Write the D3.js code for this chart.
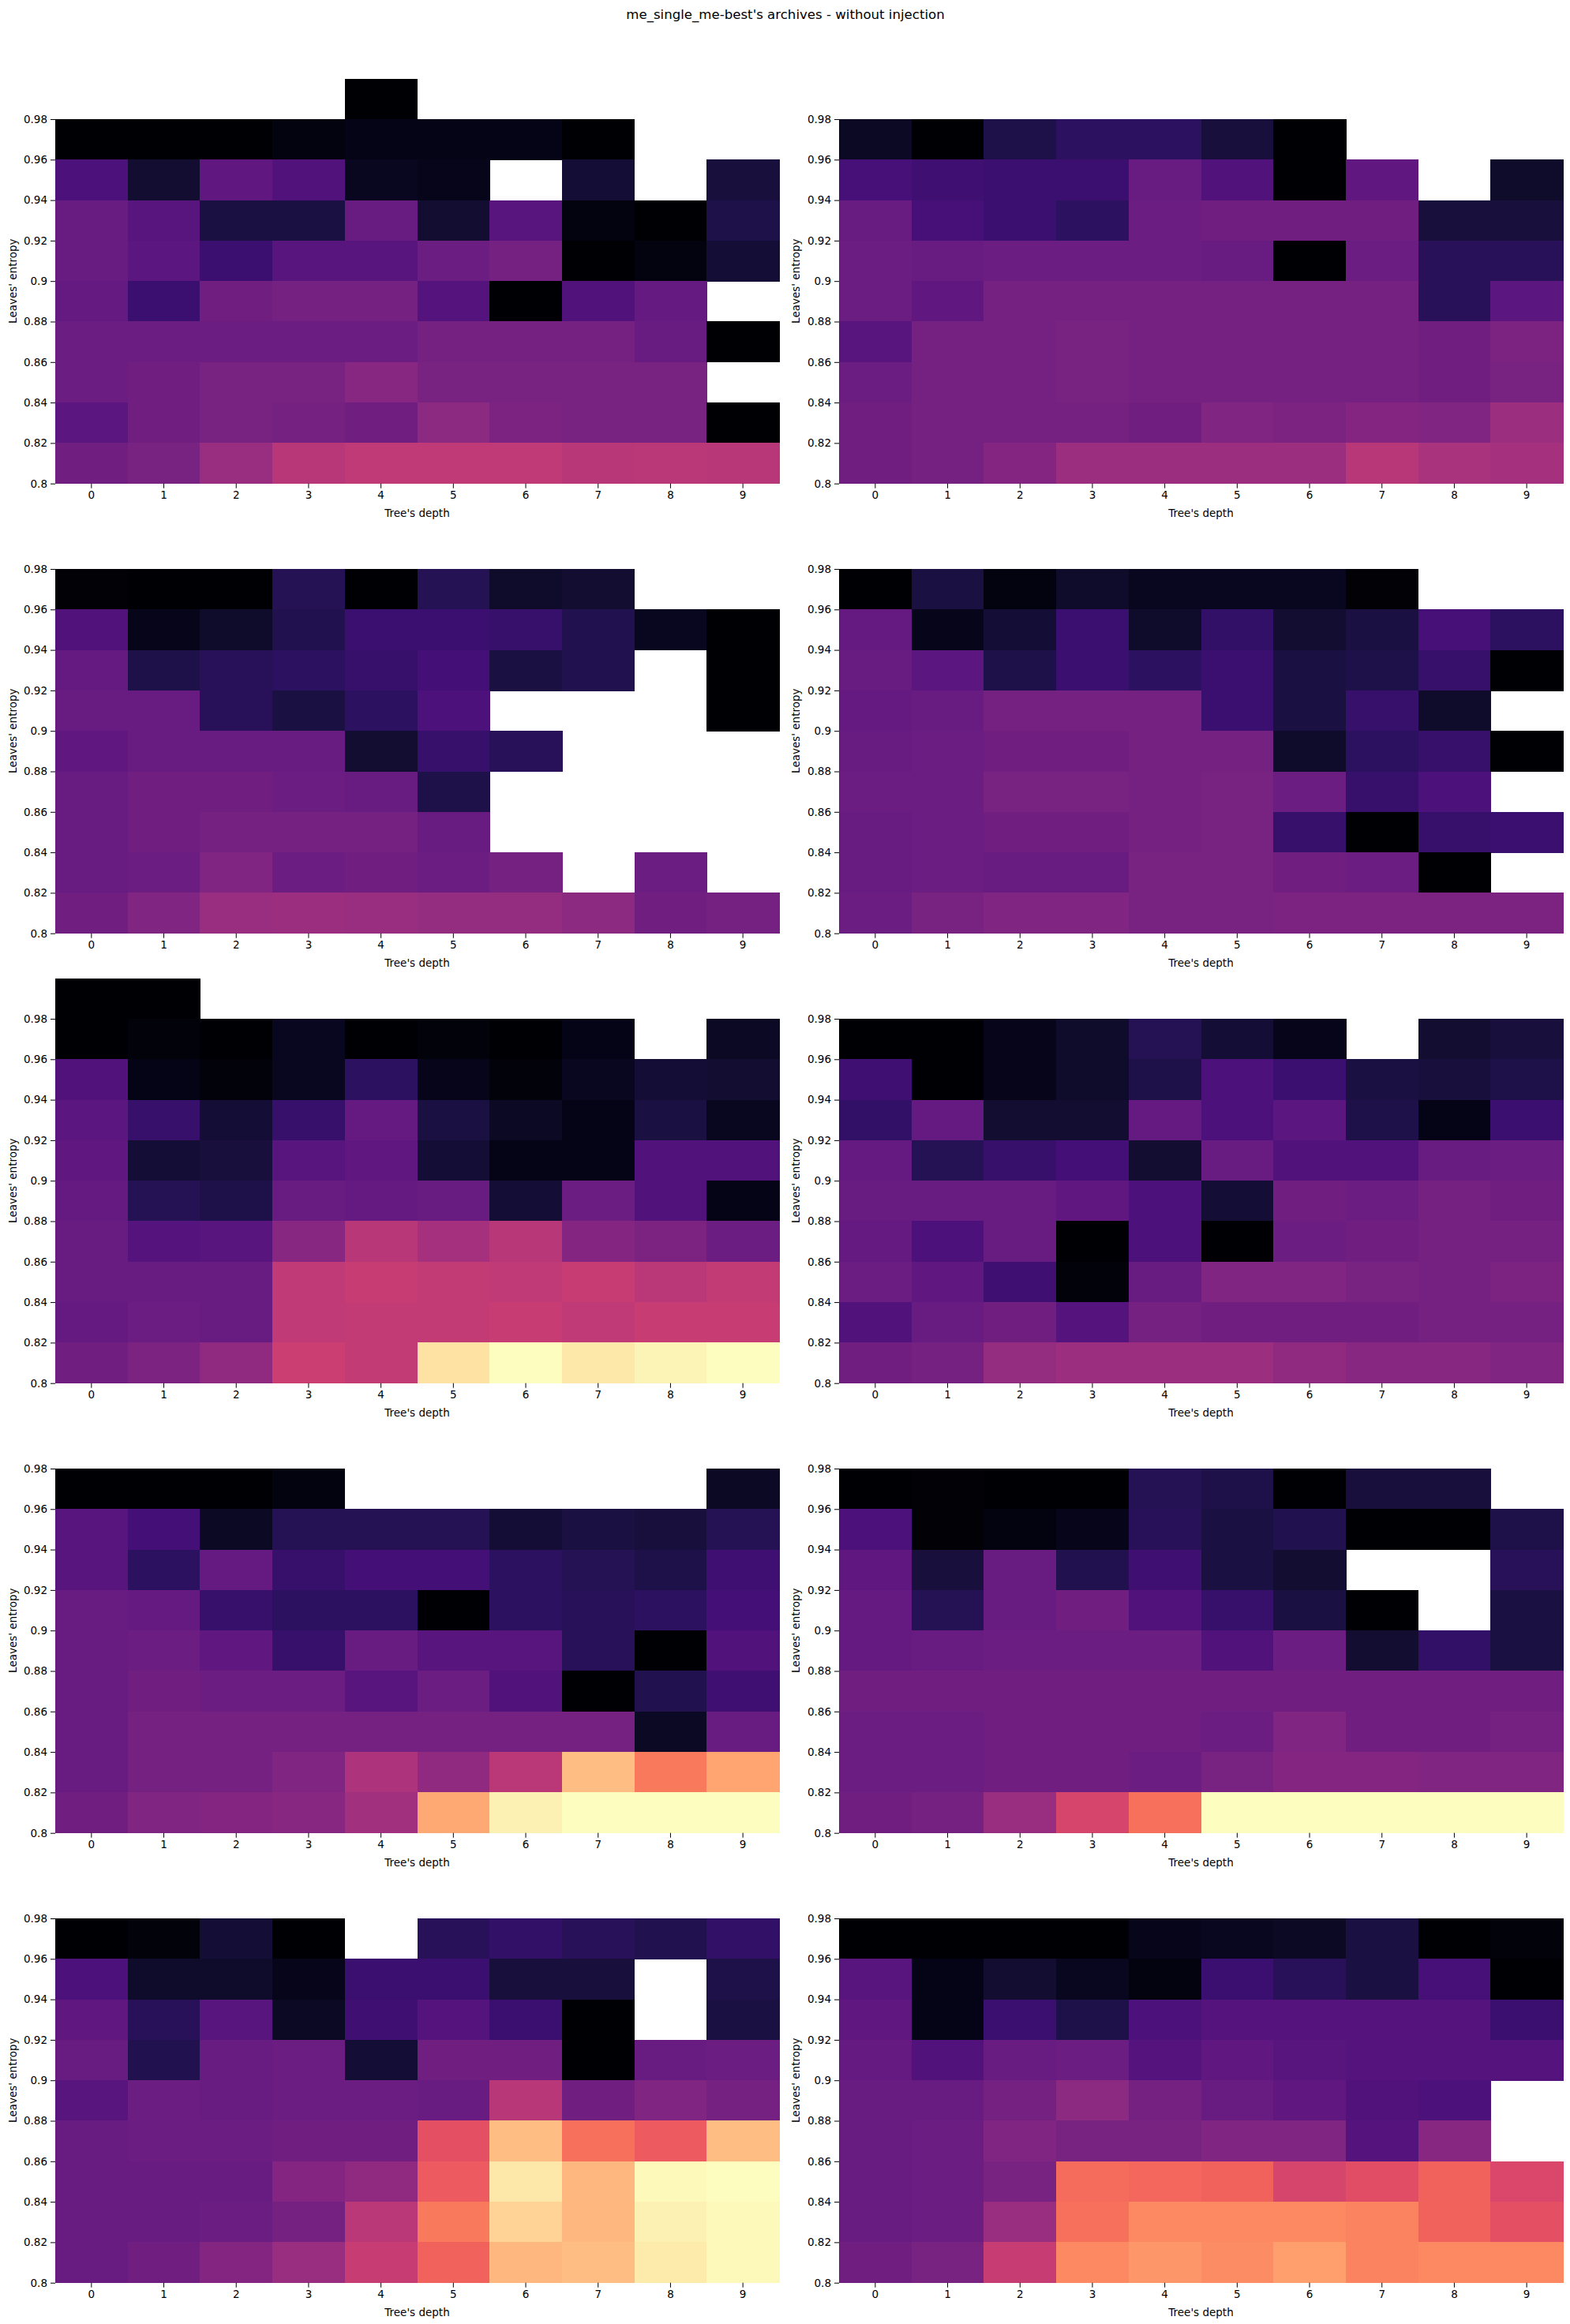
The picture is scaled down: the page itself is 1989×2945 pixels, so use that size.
<!DOCTYPE html>
<html><head><meta charset="utf-8">
<script src="https://cdn.jsdelivr.net/npm/d3@7"></script>
<style>
html,body{margin:0;padding:0;background:#fff;}
text{font-family:"DejaVu Sans",sans-serif;fill:#000;}
</style></head>
<body>
<svg id="chart" width="1989" height="2945"></svg>
<script>
// ---------- data ----------
const depths = [0,1,2,3,4,5,6,7,8,9];
// entropy bins, lower edges, top row first
const entropyBins = [0.98,0.96,0.94,0.92,0.90,0.88,0.86,0.84,0.82,0.80];
const yTickValues = [0.8,0.82,0.84,0.86,0.88,0.9,0.92,0.94,0.96,0.98];
const yTickLabels = ["0.8","0.82","0.84","0.86","0.88","0.9","0.92","0.94","0.96","0.98"];
const title = "me_single_me-best's archives - without injection";
const xLabel = "Tree's depth";
const yLabel = "Leaves' entropy";
const N = null;

// normalized archive values (0 = darkest, 1 = brightest), null = empty cell
const panel1 = [
  [N,N,N,N,0.0,N,N,N,N,N],
  [0.0,0.0,0.0,0.03,0.04,0.04,0.04,0.0,N,N],
  [0.24,0.09,0.29,0.25,0.06,0.05,N,0.10,N,0.11],
  [0.31,0.27,0.12,0.12,0.31,0.09,0.27,0.03,0.0,0.13],
  [0.31,0.28,0.20,0.27,0.27,0.32,0.34,0.0,0.03,0.10],
  [0.30,0.20,0.33,0.34,0.34,0.26,0.0,0.25,0.30,N],
  [0.32,0.32,0.32,0.32,0.32,0.34,0.34,0.34,0.31,0.0],
  [0.32,0.33,0.35,0.35,0.39,0.35,0.35,0.35,0.35,N],
  [0.28,0.33,0.35,0.34,0.33,0.40,0.36,0.35,0.35,0.0],
  [0.33,0.35,0.43,0.50,0.52,0.52,0.52,0.50,0.51,0.50]
];
const panel2 = [
  [N,N,N,N,N,N,N,N,N,N],
  [0.07,0.0,0.13,0.17,0.17,0.11,0.0,N,N,N],
  [0.23,0.21,0.20,0.20,0.31,0.25,0.0,0.29,N,0.08],
  [0.31,0.23,0.20,0.17,0.32,0.33,0.33,0.33,0.11,0.11],
  [0.32,0.31,0.32,0.32,0.32,0.31,0.0,0.32,0.16,0.16],
  [0.32,0.29,0.34,0.34,0.34,0.34,0.34,0.34,0.16,0.28],
  [0.27,0.34,0.34,0.35,0.34,0.34,0.34,0.34,0.33,0.36],
  [0.32,0.34,0.34,0.35,0.34,0.34,0.34,0.34,0.33,0.35],
  [0.33,0.34,0.34,0.34,0.33,0.37,0.36,0.38,0.37,0.44],
  [0.33,0.34,0.38,0.44,0.44,0.44,0.44,0.50,0.47,0.46]
];
const panel3 = [
  [N,N,N,N,N,N,N,N,N,N],
  [0.01,0.0,0.0,0.15,0.0,0.15,0.08,0.09,N,N],
  [0.25,0.05,0.08,0.14,0.20,0.20,0.19,0.14,0.06,0.0],
  [0.30,0.13,0.16,0.17,0.19,0.22,0.12,0.14,N,0.0],
  [0.31,0.31,0.16,0.12,0.17,0.24,N,N,N,0.0],
  [0.29,0.31,0.31,0.31,0.09,0.19,0.16,N,N,N],
  [0.31,0.33,0.33,0.32,0.31,0.13,N,N,N,N],
  [0.31,0.33,0.34,0.34,0.34,0.31,N,N,N,N],
  [0.31,0.32,0.37,0.32,0.33,0.32,0.34,N,0.32,N],
  [0.33,0.37,0.43,0.44,0.43,0.42,0.42,0.40,0.33,0.34]
];
const panel4 = [
  [N,N,N,N,N,N,N,N,N,N],
  [0.0,0.12,0.03,0.08,0.06,0.06,0.06,0.01,N,N],
  [0.30,0.05,0.10,0.20,0.08,0.18,0.09,0.12,0.23,0.17],
  [0.31,0.28,0.13,0.20,0.17,0.20,0.12,0.13,0.19,0.0],
  [0.30,0.31,0.34,0.34,0.34,0.20,0.12,0.19,0.08,N],
  [0.31,0.32,0.33,0.33,0.34,0.34,0.08,0.17,0.19,0.0],
  [0.32,0.32,0.35,0.35,0.34,0.35,0.32,0.19,0.24,N],
  [0.31,0.32,0.33,0.33,0.34,0.35,0.19,0.0,0.19,0.20],
  [0.31,0.32,0.31,0.31,0.35,0.35,0.33,0.32,0.0,N],
  [0.32,0.35,0.37,0.37,0.35,0.35,0.36,0.36,0.36,0.36]
];
const panel5 = [
  [0.0,0.0,N,N,N,N,N,N,N,N],
  [0.0,0.02,0.0,0.06,0.0,0.02,0.0,0.04,N,0.07],
  [0.25,0.04,0.02,0.06,0.17,0.05,0.02,0.06,0.10,0.09],
  [0.28,0.19,0.10,0.19,0.30,0.12,0.07,0.04,0.12,0.06],
  [0.29,0.10,0.11,0.27,0.29,0.10,0.04,0.04,0.25,0.25],
  [0.30,0.15,0.13,0.31,0.30,0.31,0.10,0.32,0.25,0.04],
  [0.31,0.26,0.27,0.39,0.50,0.46,0.50,0.38,0.36,0.32],
  [0.31,0.31,0.31,0.52,0.54,0.53,0.52,0.54,0.51,0.53],
  [0.30,0.32,0.31,0.52,0.53,0.53,0.54,0.52,0.54,0.54],
  [0.33,0.36,0.41,0.55,0.53,0.94,1.0,0.95,0.98,1.0]
];
const panel6 = [
  [N,N,N,N,N,N,N,N,N,N],
  [0.0,0.0,0.05,0.08,0.15,0.10,0.05,N,0.09,0.11],
  [0.21,0.0,0.05,0.08,0.13,0.24,0.20,0.12,0.11,0.13],
  [0.18,0.30,0.09,0.09,0.30,0.24,0.28,0.13,0.04,0.20],
  [0.30,0.15,0.19,0.22,0.09,0.31,0.25,0.25,0.31,0.32],
  [0.31,0.31,0.31,0.29,0.24,0.10,0.33,0.32,0.34,0.33],
  [0.30,0.24,0.31,0.0,0.24,0.0,0.32,0.33,0.34,0.34],
  [0.32,0.29,0.21,0.02,0.31,0.37,0.37,0.35,0.34,0.36],
  [0.25,0.31,0.33,0.26,0.34,0.33,0.33,0.33,0.34,0.34],
  [0.33,0.34,0.42,0.44,0.44,0.44,0.41,0.39,0.39,0.37]
];
const panel7 = [
  [N,N,N,N,N,N,N,N,N,N],
  [0.0,0.0,0.0,0.03,N,N,N,N,N,0.07],
  [0.27,0.22,0.07,0.15,0.15,0.15,0.10,0.12,0.11,0.15],
  [0.27,0.17,0.30,0.19,0.22,0.22,0.17,0.15,0.13,0.21],
  [0.31,0.30,0.19,0.17,0.17,0.0,0.17,0.16,0.17,0.22],
  [0.31,0.32,0.29,0.19,0.31,0.27,0.27,0.16,0.0,0.25],
  [0.31,0.33,0.32,0.32,0.27,0.32,0.25,0.0,0.14,0.21],
  [0.31,0.34,0.34,0.34,0.34,0.34,0.34,0.34,0.07,0.31],
  [0.31,0.34,0.34,0.37,0.48,0.41,0.51,0.86,0.72,0.81],
  [0.33,0.37,0.38,0.39,0.45,0.82,0.97,1.0,1.0,1.0]
];
const panel8 = [
  [N,N,N,N,N,N,N,N,N,N],
  [0.0,0.01,0.0,0.0,0.15,0.13,0.0,0.11,0.11,N],
  [0.24,0.01,0.03,0.05,0.16,0.12,0.14,0.0,0.0,0.13],
  [0.29,0.11,0.31,0.14,0.21,0.12,0.09,N,N,0.16],
  [0.30,0.15,0.31,0.33,0.25,0.19,0.12,0.0,N,0.12],
  [0.30,0.31,0.32,0.32,0.32,0.25,0.32,0.09,0.18,0.12],
  [0.33,0.33,0.33,0.33,0.33,0.33,0.33,0.33,0.33,0.33],
  [0.32,0.32,0.33,0.33,0.33,0.32,0.37,0.33,0.33,0.34],
  [0.32,0.32,0.33,0.33,0.32,0.35,0.38,0.38,0.37,0.37],
  [0.33,0.34,0.43,0.58,0.70,1.0,1.0,1.0,1.0,1.0]
];
const panel9 = [
  [N,N,N,N,N,N,N,N,N,N],
  [0.0,0.02,0.10,0.0,N,0.16,0.18,0.16,0.14,0.18],
  [0.24,0.08,0.08,0.05,0.20,0.20,0.11,0.11,N,0.13],
  [0.29,0.16,0.27,0.07,0.21,0.26,0.20,0.0,N,0.12],
  [0.31,0.14,0.31,0.32,0.10,0.33,0.33,0.0,0.31,0.32],
  [0.27,0.32,0.31,0.32,0.32,0.31,0.50,0.33,0.37,0.34],
  [0.31,0.32,0.32,0.33,0.33,0.62,0.86,0.70,0.65,0.86],
  [0.31,0.31,0.31,0.38,0.41,0.65,0.95,0.85,0.99,1.0],
  [0.31,0.31,0.32,0.34,0.51,0.72,0.91,0.85,0.97,0.99],
  [0.31,0.33,0.38,0.43,0.54,0.67,0.85,0.86,0.96,0.99]
];
const panel10 = [
  [N,N,N,N,N,N,N,N,N,N],
  [0.0,0.0,0.0,0.0,0.05,0.06,0.07,0.12,0.0,0.02],
  [0.27,0.04,0.09,0.06,0.03,0.20,0.16,0.12,0.23,0.0],
  [0.29,0.04,0.20,0.13,0.24,0.26,0.26,0.26,0.26,0.20],
  [0.30,0.25,0.31,0.32,0.26,0.29,0.27,0.26,0.26,0.26],
  [0.31,0.31,0.34,0.40,0.34,0.31,0.29,0.25,0.24,N],
  [0.31,0.32,0.37,0.35,0.35,0.37,0.37,0.26,0.39,N],
  [0.31,0.32,0.35,0.69,0.68,0.67,0.58,0.61,0.67,0.59],
  [0.31,0.32,0.43,0.70,0.75,0.75,0.75,0.74,0.67,0.62],
  [0.33,0.35,0.54,0.75,0.78,0.76,0.80,0.74,0.75,0.75]
];
const panels = [panel1,panel2,panel3,panel4,panel5,panel6,panel7,panel8,panel9,panel10];

// ---------- layout ----------
const svg = d3.select("#chart");
const colLeft = [70, 1063];
const plotW = 917;
const axTop0 = 99.7;       // top of axes (1.0) for first row
const rowStep = 570;
const axH = 513;           // axes height (0.8 -> 1.0)
const color = d3.scaleSequential(d3.interpolateMagma).domain([0,1]);

svg.append("text")
  .attr("x", 995).attr("y", 24)
  .attr("text-anchor","middle")
  .style("font-size","16.6px")
  .text(title);

panels.forEach((data, i) => {
  const c = i % 2, r = Math.floor(i / 2);
  const x0 = colLeft[c], y0 = axTop0 + r * rowStep;
  const g = svg.append("g").attr("transform", `translate(${x0},${y0})`);

  const x = d3.scaleBand().domain(depths).range([0, plotW]).padding(0);
  const y = d3.scaleLinear().domain([0.8, 1.0]).range([axH, 0]);

  const cells = [];
  data.forEach((row, ri) => row.forEach((v, ci) => {
    if (v !== null) cells.push({e: entropyBins[ri], d: depths[ci], v});
  }));

  g.append("g").selectAll("rect").data(cells).join("rect")
    .attr("x", d => x(d.d))
    .attr("y", d => y(d.e + 0.02))
    .attr("width", x.bandwidth() + 0.6)
    .attr("height", d => y(d.e) - y(d.e + 0.02) + 0.6)
    .attr("fill", d => color(d.v))
    .attr("shape-rendering","crispEdges");

  const yAxis = d3.axisLeft(y).tickValues(yTickValues)
    .tickFormat((d, k) => yTickLabels[k]).tickSize(6).tickPadding(4);
  const ya = g.append("g").call(yAxis);
  ya.select(".domain").remove();
  ya.selectAll("text").style("font-size","13.5px").attr("fill","#000");
  ya.selectAll("line").attr("stroke","#000").attr("stroke-width",1);

  const xAxis = d3.axisBottom(x).tickSize(6).tickPadding(4);
  const xa = g.append("g").attr("transform", `translate(0,${axH})`).call(xAxis);
  xa.select(".domain").remove();
  xa.selectAll("text").style("font-size","13.5px").attr("fill","#000");
  xa.selectAll("line").attr("stroke","#000").attr("stroke-width",1);

  g.append("text")
    .attr("x", plotW / 2).attr("y", axH + 42)
    .attr("text-anchor","middle")
    .style("font-size","13.5px")
    .text(xLabel);

  g.append("text")
    .attr("transform", `translate(${c === 0 ? -54 : -55},${axH / 2}) rotate(-90)`)
    .attr("text-anchor","middle")
    .attr("dy","0.35em")
    .style("font-size","13.5px")
    .text(yLabel);
});
</script>
</body></html>
